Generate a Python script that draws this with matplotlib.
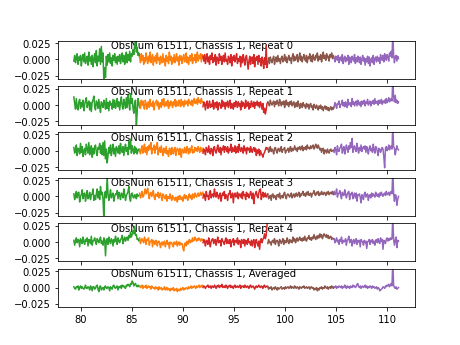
import numpy as np
import matplotlib
matplotlib.use("Agg")
import matplotlib.pyplot as plt

# band edges in x (GHz), one per colour segment
band_lo = [79.3, 85.75, 91.95, 98.3, 104.8]
band_hi = [85.75, 91.95, 98.3, 104.8, 111.1]
band_colors = ["C2", "C1", "C3", "C5", "C4"]

titles = ["ObsNum 61511, Chassis 1, Repeat 0",
          "ObsNum 61511, Chassis 1, Repeat 1",
          "ObsNum 61511, Chassis 1, Repeat 2",
          "ObsNum 61511, Chassis 1, Repeat 3",
          "ObsNum 61511, Chassis 1, Repeat 4",
          "ObsNum 61511, Chassis 1, Averaged"]

# spectra (one list per band), in units of 1.25e-3
unit = 1.25e-3
rep0 = [
    [-2, 5, -4, 1, 7, -6, 3, -1, 5, -8, 2, 6, -3, 8, -5, 0, 4, -7, 9, -2, 3, -6, 5, -9, 1, 7, -4, 11, -8, 4, -2, 13, -6, 16, -3, 8, -27, -10, -22, 4, -7, 6, -3, 8, -5, 2, -8, 5, -1, 7, -4, 3, -6, 4, -2, 6, -5, 1, 8, -3, 5, -6, 2, 9, -4, 6, -1, 10, -3, 7, 4, 12, 6, 18, 24, 9, 15, 5, 8, 2],
    [3, -4, 7, -1, 5, -6, 2, -3, 8, 0, -5, 4, -2, 9, -4, 1, 6, -7, 3, -2, 5, -5, 8, -1, 2, -6, 4, 0, -4, 7, -3, 1, -8, 5, -2, 3, -5, 9, -1, 4, -6, 2, -3, 6, -4, 1, 7, -2, 3, -7, 5, -1, 4, -5, 2, 6, -3, 0, 8, -4, 3, -6, 1, 5, -2, 7, -5, 2, -1, 6, -4, 3, 9, -2, 5, 1, 7, -3, 6, 2],
    [4, -2, 6, -5, 1, 7, -3, 3, -6, 5, 0, 8, -4, 2, -2, 6, -7, 3, 1, -5, 7, -1, 4, -6, 2, 5, -3, 8, -2, 0, -6, 4, 1, -4, 6, -8, 3, -1, 5, -3, 2, 7, -5, 1, -2, 4, -9, 3, -4, 6, 0, -7, 2, 5, -3, -12, -2, 4, -6, 1, 3, -5, 6, -9, 2, -1, 4, -6, 5, -3, 1, -8, 3, -2, -11, 2, -6, 17, -10, -4],
    [-3, 2, -5, 3, -1, -4, 1, 4, -6, 0, 3, -3, 5, -2, 1, -5, 2, 4, -3, 0, 6, -2, 3, -4, 1, 5, -1, 2, -5, 3, 7, -2, 4, -1, 2, 6, -3, 1, 8, -1, 4, -3, 2, 6, 0, -2, 5, -4, 3, 1, 7, -2, 4, -3, 6, 1, -1, 5, 2, 8, -2, 4, 0, 6, -3, 3, 9, 1, 5, -1, 7, 2, 4, -2, 6, 3, 8, 1, 5, 2],
    [2, -3, 4, 0, -1, 5, -4, 2, 3, -2, 6, -5, 1, 4, -3, 2, -1, 5, -6, 3, 0, -4, 4, 1, -2, 6, -5, 2, -3, 4, 1, -4, 3, -6, 0, 5, -2, 2, -7, 1, -3, 4, -5, 3, -8, 0, 2, -4, 5, -6, 1, 3, -3, 4, -2, 2, -5, 6, 0, -1, 5, -3, 7, 2, -1, 6, 3, -2, 8, 4, 10, 2, 32, 6, -4, 3, 5, -2, 4, 1],
]
rep1 = [
    [10, 2, -5, 8, -3, -6, 4, 7, -4, 3, -2, 6, -7, 1, 5, 9, -3, 2, 5, -6, 3, -8, 4, 6, 11, -2, -6, 5, 3, -4, 7, -2, -9, 4, 1, -3, 6, 2, -5, 8, -4, 3, -7, 5, 0, 2, -5, 7, -3, 6, -4, 1, 8, -2, 4, -6, 3, 10, -1, -5, 7, 2, -4, 9, -3, 12, 4, -6, 14, 2, 8, -4, -10, 3, 6, -28, -8, 8, 2, -3],
    [3, -4, 6, 0, 5, -2, -5, 6, 1, -5, 3, 4, -3, 7, -1, 2, -2, 5, -6, 2, 3, 6, -1, 4, -5, 1, 3, -3, 7, 0, 8, -2, 1, 4, -1, 6, -4, 3, -1, 5, 2, -3, 4, 0, 7, -2, 5, 1, -1, 6, 3, -2, 7, 0, 4, -2, 6, 1, 3, 5, -1, 7, 2, 4, 0, 6, -1, 5, 8, 2, 4, 7, 1, 9, 3, 6, 2, 8, 4, 3],
    [-2, 4, 1, -6, 2, 5, -4, 0, 5, -3, 1, -2, 6, -5, 2, 3, -3, 4, -6, 1, 3, -1, -4, 6, -2, 4, 2, -5, 3, -1, 5, -3, 1, 6, -4, 2, 0, -5, 3, -2, 5, 1, -3, 4, -1, 2, -6, 5, -2, 3, 1, -4, 6, -2, 0, 4, -5, 2, -3, 5, 1, -2, 4, -4, 3, 0, 5, -1, 3, -3, 4, 1, -5, 2, -9, -4, -11, -6, 2, 3],
    [4, 1, -1, 6, 2, 0, 3, 5, -2, 4, 1, 6, 2, -1, 7, 3, -1, 4, 1, 5, -3, 2, 6, 0, 3, -2, 4, 1, 5, -1, 2, 4, -3, 1, 3, -2, 5, 0, -4, 2, 1, -3, 3, -1, 0, -4, 2, -2, 1, -5, 0, 2, -3, -1, -6, 1, -2, -4, 0, -3, -6, -1, -4, 0, -5, -2, -7, -3, -1, -5, -2, -6, -3, -7, -4, -2, -6, -3, -5, -2],
    [-2, 3, 0, -4, 2, 1, 5, -3, 0, 2, 6, -1, 3, -2, 4, 1, -3, 7, 0, 2, 3, -2, 8, 1, 4, -1, 2, 5, -1, 6, 2, 0, 4, -2, 5, 1, 3, 6, -1, 4, 2, 7, 0, 3, 5, -1, 4, 2, 6, 1, 8, 2, 3, 5, 0, 6, 2, 4, 7, 1, 5, 3, 6, 2, 8, 3, 5, 9, 4, 6, 8, 5, 32, 10, 4, 12, 3, 6, 2, 4],
]
rep2 = [
    [4, -3, 1, 7, -6, 3, 2, -4, 9, -2, 5, -7, 0, 3, -5, 8, 2, -3, 10, -5, 1, 6, -8, 3, -4, 5, 7, -2, -6, 4, 2, 9, -3, 6, -5, 10, -6, 12, -10, 2, -15, -6, 4, -3, 7, -6, 1, 8, -4, 3, -7, 5, 2, -3, 6, -4, 9, 1, -2, 5, -6, 3, 8, -1, 4, -5, 11, 2, 14, -3, 6, 1, -4, 5, -2, 3, -4, 1, 2, -1],
    [2, -4, 1, 6, -3, 3, 8, -2, 4, -5, 5, 0, 7, 2, 10, -4, 3, 1, 7, -3, 5, 2, 10, -5, 1, 4, -2, 6, -1, -6, 3, 2, -3, 5, -4, 0, -7, 3, 2, -5, 4, -1, -4, 2, 4, -6, 0, 3, 1, -5, 3, -2, -8, 2, 0, -3, 4, -1, -3, 5, 1, -4, 3, -2, 2, 6, -3, 1, -2, 4, 0, 3, -1, 5, 2, -2, 4, 1, -1, 3],
    [-3, 2, 0, -5, 4, 1, -2, 6, -1, -4, 3, 1, -6, 4, 5, -1, -3, 2, 7, 0, -2, 4, -5, 3, 1, 6, -2, 5, 3, -1, 5, -3, 2, 0, 8, -2, 4, 1, -1, 6, -3, 2, 5, -2, 8, 1, -1, 4, 2, -3, 6, 0, 3, -4, 4, 1, 3, -2, 5, 1, -2, 2, 4, -1, 3, -6, 1, -3, 2, -6, 0, -3, -5, -8, -4, -2, 1, 4, 2, 3],
    [3, -2, 1, 5, -1, 2, 0, -4, 3, 4, 0, -3, 2, 3, -1, 1, 5, -2, 1, 2, 4, -3, 0, 1, 3, -2, 2, 5, -1, 3, 0, 2, 6, 1, 3, -1, 4, 2, 5, 1, 3, 6, 0, 4, 2, 5, 1, 7, 3, 4, 2, 6, 3, 5, 7, 2, 4, 8, 5, 3, 7, 4, 1, 3, -2, 2, 3, -4, 1, 0, -3, 2, -1, -3, 1, 2, -1, 0, 1, -1],
    [-2, 4, 1, -5, 6, 0, -1, 3, 5, 8, -3, 2, 5, -4, 1, 7, 3, -2, 6, 2, 10, 4, 15, -2, 3, 6, 1, -1, 9, 2, -3, 4, 0, 7, -1, 3, 5, 2, 6, -2, 5, 1, -4, 3, 6, 0, 3, -2, 8, 1, -3, 5, 4, -1, -6, 3, 2, -2, 1, 4, 2, -8, -21, 3, 5, 0, 2, 7, 1, 4, 6, 2, 32, 5, 3, -5, 1, 6, 2, 1],
]
rep3 = [
    [3, -4, 1, 6, -2, 4, 5, -7, 0, 2, 8, -3, 3, 4, -6, 1, 7, -3, -1, 5, -4, 2, 3, 9, -5, 1, -4, 3, 9, -2, 6, -4, 12, 2, 5, -3, -28, 4, 6, -2, 25, 3, -5, 1, 8, -2, 2, 4, -6, 0, 3, 2, 7, -3, 5, 1, -4, 4, 2, -2, 9, 3, -5, 1, 3, 6, 12, -2, -6, 3, 4, -1, -2, 2, 1, -3, 3, 0, 1, 2],
    [4, -2, 1, 6, -1, 1, 5, 9, 3, 6, 10, 2, -3, 4, 5, 0, 2, 7, -1, -4, 3, 1, 0, 5, -2, 2, 4, -1, -5, 3, 1, -2, -3, 2, -6, 0, -1, -3, 3, -2, -5, 1, -3, -2, -5, -1, -2, -7, 0, -4, 1, -2, -4, -1, -6, 0, 2, -3, 1, -1, -5, 0, 3, -2, 1, -4, 3, 0, -2, 4, 1, -1, 2, 4, 0, 2, 5, 1, 3, 5],
    [-2, 3, 1, -5, 6, 0, 1, -4, 5, 7, -2, 2, 3, -1, 9, 2, -1, 5, 1, -3, 2, 4, -6, 0, 4, 1, 6, -3, 2, 0, -5, 3, 3, 7, -2, 1, 4, -8, 2, 4, -1, 0, 5, -3, 3, 2, -1, 4, -3, 6, 1, 2, -4, 5, 0, 3, -2, 1, 6, 2, -3, 4, -9, 1, 3, 6, 0, -2, 4, 8, 9, -4, 1, 5, -1, 2, 4, -1, 1, 3],
    [2, -3, 0, 1, -5, 2, 3, -2, 1, 0, -4, 2, 2, -1, 4, -3, 0, 1, -2, 3, 5, 0, -3, 2, 3, 1, -1, 2, 4, -2, 1, 3, -1, 2, 4, 0, 2, 5, -1, 3, 1, 4, 6, 1, 3, 0, 5, 2, 6, 1, 2, 4, -1, 3, 4, 7, 2, 1, 5, 3, 6, 1, 4, 2, 6, 3, 2, 5, 4, 1, 5, 3, 6, 2, 4, 5, 3, 6, 2, 4],
    [6, 2, 4, 9, -1, 3, 4, 7, 1, -3, 5, 2, 1, 8, 3, -2, 2, 5, 6, -4, 3, 2, 5, -3, 1, 4, -2, 4, -6, 2, 1, 3, -1, -8, 2, 0, -4, 3, 5, -1, 2, 3, -5, 1, 2, -2, 4, 0, 3, 1, -1, 5, 2, 0, 3, -1, 4, 1, 5, 2, 0, 3, 4, 1, 6, 2, 3, 5, 1, 4, 6, 3, 32, 4, -6, 2, 1, -11, -4, 0],
]
rep4 = [
    [2, -4, 1, 5, -1, 3, 2, -6, 4, 1, -2, 6, 0, -3, 3, 1, 5, -5, 3, 2, -2, 7, -4, 1, 2, 5, 0, -3, 4, 2, -1, 3, 6, -2, 1, -4, 5, 3, -17, 2, 4, -3, 6, 1, -2, 4, 2, -5, 3, 0, 7, 2, -3, 5, 1, -1, 3, 4, 8, -2, 3, 6, 1, 4, 6, 2, 8, 5, 12, 6, 9, 14, 10, 19, 8, 9, 3, 4, 1, 2],
    [5, -2, 2, 4, 1, -1, 6, 2, -3, 3, 2, 5, -4, 0, 1, 3, -6, 2, 0, -3, 2, 1, -5, 0, 1, -2, -7, -1, 0, -4, -1, 1, -6, -2, 2, -3, -1, -8, 0, -2, -1, -4, -6, 0, -2, -3, 1, -5, -2, 0, -4, -1, -3, -2, -8, -11, -3, -1, -5, 1, -3, 0, 3, -1, 2, 0, 5, 1, 2, 6, 3, 1, 4, 2, 5, 3, 1, 4, 2, 3],
    [-1, 3, 0, -5, 2, 1, -3, 5, -1, -6, 1, 3, 4, -2, 2, 3, -4, 1, 6, -1, 0, 2, -5, 4, 1, 0, -3, 2, 5, -2, 3, -1, -2, 3, -6, 1, 0, 4, -4, 2, 1, -1, 5, -3, 2, 1, -7, 3, 0, -2, 3, -5, 2, 1, -3, 4, -1, 0, -4, 2, -5, 1, 3, -7, 0, 3, -2, -5, 1, -9, 2, 4, -1, 3, 5, 10, 4, 8, 20, 32],
    [-2, 3, -1, 0, -4, 1, 2, -1, 4, -3, 1, 2, 0, -5, 3, 1, -2, 1, 4, -3, 2, 0, -1, 5, 1, -2, 3, 0, 2, -1, 6, 1, 4, -1, 2, 5, 1, 3, 6, 2, 4, 1, 5, 2, 7, 3, 1, 5, 4, 8, 3, 5, 2, 6, 4, 9, 5, 3, 7, 4, 8, 5, 10, 6, 9, 4, 7, 10, 8, 6, 9, 5, 8, 4, 6, 7, 3, 5, 4, 3],
    [4, -1, 2, 5, 0, 2, -3, 3, 1, 6, -2, 2, 0, 1, 4, -4, 2, 3, 7, -1, 2, 3, -5, 1, 3, -2, 1, 4, -3, 2, 0, 2, -6, 3, 1, 0, -4, 2, -1, 1, -8, 0, 1, 3, -3, 2, 0, 3, -2, 1, -4, 2, 3, -1, 4, 0, -2, 5, 1, 3, -9, 2, 1, -2, 3, 5, 1, 4, 2, 5, 3, 4, 32, 3, -4, 2, 6, -7, 2, 1],
]
averaged = [
    [1, -1, -2, 1, 0, 2, -3, 0, 2, -1, 1, -1, -2, 0, 3, -1, -1, 1, 0, -3, 2, 0, -4, 1, 1, -2, -1, 2, 3, -2, -5, 1, 2, -3, -1, 0, -3, 1, 2, -1, -1, 1, 0, -4, 1, -1, -2, 2, 3, 0, -1, 1, 2, -3, 1, 0, 2, -1, 3, 1, 2, 0, -1, 3, 2, 4, 3, 1, 5, 4, 8, 6, 2, 4, 5, 2, 1, 3, 1, 2],
    [2, 0, 1, 3, -1, 2, 1, 0, 3, -1, 1, 2, 0, 1, -2, 2, 1, -1, 0, -2, 1, -1, 0, -3, 1, -2, -1, 0, -3, -1, -2, 1, -3, -2, 0, -3, -1, -2, -4, -1, -3, -2, 0, -4, -2, -3, -1, -5, -2, -3, -4, -1, -3, -2, 0, -3, -1, -2, 0, -1, -2, 1, -1, 0, 2, -1, 1, 0, 2, 1, -1, 2, 0, 1, 3, 0, 2, 1, 3, 2],
    [0, 2, 1, -1, 1, 2, 3, 0, 1, 2, -1, 2, 1, 0, 3, 1, -1, 2, 1, 3, 0, 2, 1, 4, 0, 1, 2, 0, 3, 1, -1, 2, 1, 3, 0, 2, 1, -1, 2, 3, 0, 1, 2, 0, 1, 3, -1, 2, 1, 2, 0, 3, 1, 0, 2, 1, -1, 2, 3, 0, 1, 2, 0, -2, 1, 2, 0, 1, 3, 1, 0, 2, 1, -1, 2, 3, 0, 1, 2, 1],
    [1, -2, 0, -1, 1, -3, -1, 0, -2, 1, -1, -3, 0, -2, -1, 0, 1, -2, -1, 0, -2, 1, -1, 0, 1, -1, 0, 2, -1, 1, 0, -1, 2, 0, -1, 1, 0, -2, 1, 0, -1, 1, 0, 2, -1, 0, 1, -1, 0, 1, -2, 0, 1, -1, 0, -3, -1, -2, 0, -4, -1, -3, 0, -1, 1, -2, 0, -1, 2, 0, -1, 1, -2, 0, 1, -1, 2, 0, -1, 1],
    [1, 0, 2, -1, 1, 0, 2, 1, 0, 2, -1, 1, 0, 3, 1, -1, 2, 0, 1, -1, 2, 1, 0, 3, 1, 2, 0, 1, 4, 5, 1, 0, 2, -1, 1, 2, 0, 1, 3, 0, 2, -1, 1, 0, 2, 1, -1, 2, 0, 1, -1, 0, 1, -2, 0, -1, -4, -3, -2, -1, 1, 0, -1, 2, 1, 3, 2, 4, 1, 3, 5, 2, 32, 3, 0, -1, 1, -2, -1, 0],
]
spectra = [rep0, rep1, rep2, rep3, rep4, averaged]

fig, axes = plt.subplots(6, 1, sharex=True, figsize=(6.4, 4.8), dpi=72)

for ax, title, spec in zip(axes, titles, spectra):
    ax.text(82.9, 0.0165, title, zorder=1)
    for lo, hi, col, vals in zip(band_lo, band_hi, band_colors, spec):
        x = np.linspace(lo, hi, len(vals))
        ax.plot(x, np.array(vals) * unit, color=col)
    ax.set_ylim(-0.0298, 0.0285)
    ax.set_yticks([-0.025, 0.0, 0.025])

plt.savefig("out.png", dpi=72)
